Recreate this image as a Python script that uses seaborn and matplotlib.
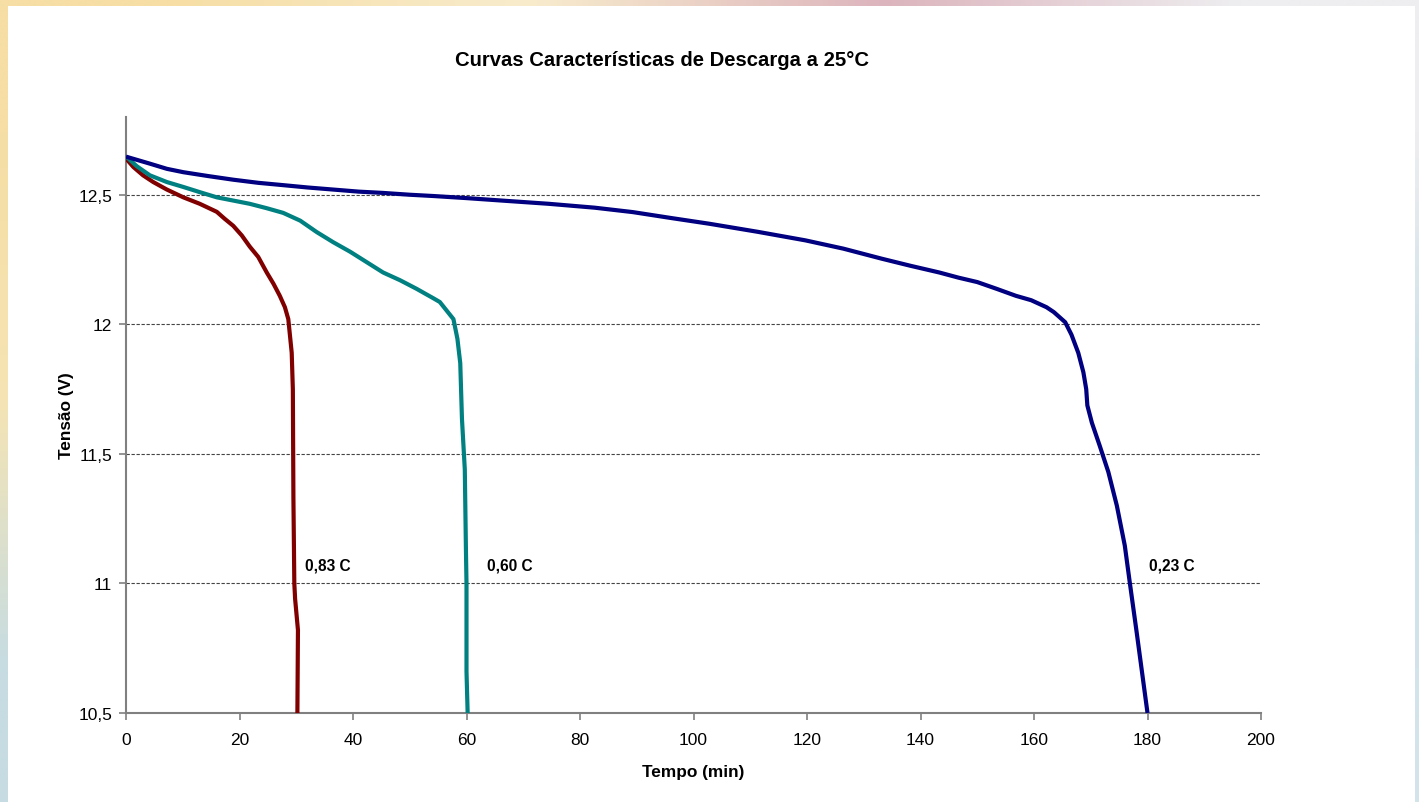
import numpy as np
import pandas as pd
import matplotlib
matplotlib.use("Agg")
import matplotlib.pyplot as plt
from matplotlib.patches import Rectangle
import seaborn as sns

# ---- data ----
t_023 = [0, 4.2, 7.2, 10.1, 14.5, 18.9, 23.3, 27.7, 32.0, 36.5, 41.0, 45.3, 50.0,
         54.2, 60.0, 65.9, 74.5, 82.6, 89.3, 96.1, 102.8, 111.3, 119.7, 126.4,
         133.2, 138.2, 143.3, 146.7, 150.0, 153.4, 156.8, 159.5, 162.2, 163.5,
         165.5, 166.6, 167.8, 168.7, 169.2, 169.4, 170.2, 171.6, 173.1, 174.6,
         176.0, 176.9, 178.1, 180.0]
v_023 = [12.647, 12.62, 12.60, 12.587, 12.572, 12.558, 12.546, 12.537, 12.528,
         12.52, 12.512, 12.507, 12.50, 12.495, 12.487, 12.478, 12.465, 12.45,
         12.433, 12.41, 12.388, 12.357, 12.324, 12.292, 12.253, 12.226, 12.20,
         12.18, 12.163, 12.137, 12.11, 12.093, 12.066, 12.047, 12.008, 11.96,
         11.89, 11.815, 11.75, 11.687, 11.62, 11.53, 11.43, 11.30, 11.146, 11.0,
         10.81, 10.5]

t_060 = [0, 1.9, 4.2, 7.2, 10.1, 13.0, 16.0, 21.8, 24.8, 27.7, 30.7, 33.6, 36.5,
         39.5, 42.4, 45.3, 48.3, 51.2, 54.2, 55.3, 57.7, 58.4, 58.9, 59.2, 59.7,
         59.9, 60.0, 60.0, 60.2]
v_060 = [12.648, 12.61, 12.575, 12.549, 12.53, 12.51, 12.49, 12.465, 12.448, 12.43,
         12.40, 12.356, 12.317, 12.28, 12.24, 12.20, 12.17, 12.137, 12.10, 12.086,
         12.02, 11.944, 11.85, 11.635, 11.44, 11.13, 11.0, 10.66, 10.5]

t_083 = [0, 1.3, 3.0, 4.8, 7.2, 10.1, 13.0, 16.0, 17.4, 18.9, 20.4, 21.8, 23.3,
         24.8, 26.0, 27.1, 28.0, 28.6, 29.2, 29.4, 29.5, 29.66, 29.8, 30.3, 30.2]
v_083 = [12.64, 12.607, 12.575, 12.549, 12.52, 12.49, 12.465, 12.434, 12.407, 12.38,
         12.343, 12.30, 12.26, 12.20, 12.156, 12.11, 12.066, 12.02, 11.89, 11.75,
         11.33, 11.0, 10.94, 10.82, 10.5]

series_labels = ["0,83 C", "0,60 C", "0,23 C"]
label_x = [31.5, 63.6, 180.3]
label_y = [11.07, 11.07, 11.07]

x_ticks = [0, 20, 40, 60, 80, 100, 120, 140, 160, 180, 200]
y_ticks = [10.5, 11.0, 11.5, 12.0, 12.5]
y_tick_labels = ["10,5", "11", "11,5", "12", "12,5"]

title = "Curvas Características de Descarga a 25°C"
xlabel = "Tempo (min)"
ylabel = "Tensão (V)"

colors = ["#800000", "#008080", "#000080"]

# ---- figure ----
sns.set_theme(style="white")
plt.rcParams["font.family"] = ["Liberation Sans", "DejaVu Sans"]
plt.rcParams["text.color"] = "black"
plt.rcParams["axes.labelcolor"] = "black"

W, H = 1419, 803
fig = plt.figure(figsize=(W / 100, H / 100), dpi=100)

# slide-like gradient backdrop
bg = fig.add_axes([0, 0, 1, 1], zorder=-10)
bg.axis("off")
grid_cols = np.array([
    [[246, 222, 165], [248, 236, 205], [220, 180, 189], [238, 238, 240]],
    [[245, 228, 180], [240, 235, 225], [215, 225, 230], [200, 224, 230]],
    [[198, 220, 226], [220, 230, 234], [215, 228, 232], [210, 228, 234]],
], dtype=float) / 255.0
bg.imshow(grid_cols, aspect="auto", interpolation="bilinear", extent=[0, 1, 0, 1])
bg.set_xlim(0, 1)
bg.set_ylim(0, 1)
fig.patches.append(Rectangle((8 / W, 0), (1415 - 8) / W, (H - 7) / H,
                             transform=fig.transFigure, facecolor="white",
                             edgecolor="none", zorder=-5))

ax = fig.add_axes([126 / W, (H - 714) / H, (1261 - 126) / W, (714 - 118) / H])
ax.set_facecolor("none")

frames = [
    pd.DataFrame({"t": t_083, "v": v_083}),
    pd.DataFrame({"t": t_060, "v": v_060}),
    pd.DataFrame({"t": t_023, "v": v_023}),
]
for df, c in zip(frames, colors):
    sns.lineplot(data=df, x="t", y="v", sort=False, estimator=None, color=c,
                 linewidth=3.0, ax=ax, zorder=3, solid_joinstyle="round",
                 solid_capstyle="butt")

for lab, lx, ly in zip(series_labels, label_x, label_y):
    ax.text(lx, ly, lab, fontsize=11.2, fontweight="bold", ha="left", va="center",
            color="black", zorder=4)

ax.set_xlim(0, 200)
ax.set_ylim(10.5, 12.8)
ax.set_xticks(x_ticks)
ax.set_xticklabels([str(v) for v in x_ticks])
ax.set_yticks(y_ticks)
ax.set_yticklabels(y_tick_labels)

for y in y_ticks[1:]:
    ax.axhline(y, color="#444444", linewidth=0.8, linestyle=(0, (3, 1.5)), zorder=1)

for s in ["top", "right"]:
    ax.spines[s].set_visible(False)
for s in ["left", "bottom"]:
    ax.spines[s].set_color("#808080")
    ax.spines[s].set_linewidth(1.5)
    ax.spines[s].set_zorder(2)

ax.tick_params(axis="both", which="major", direction="out", length=5, width=1.2,
               color="#808080", labelsize=12.5, labelcolor="black",
               bottom=True, left=True)
ax.tick_params(axis="x", pad=9)
ax.tick_params(axis="y", pad=5)

ax.set_xlabel(xlabel, fontsize=12.4, fontweight="bold", labelpad=12)
ax.set_ylabel(ylabel, fontsize=12.4, fontweight="bold", labelpad=3)

fig.text(662 / W, 1 - 60 / H, title, fontsize=14.6, fontweight="bold",
         ha="center", va="center", color="black")

fig.savefig("out.png", dpi=100)
